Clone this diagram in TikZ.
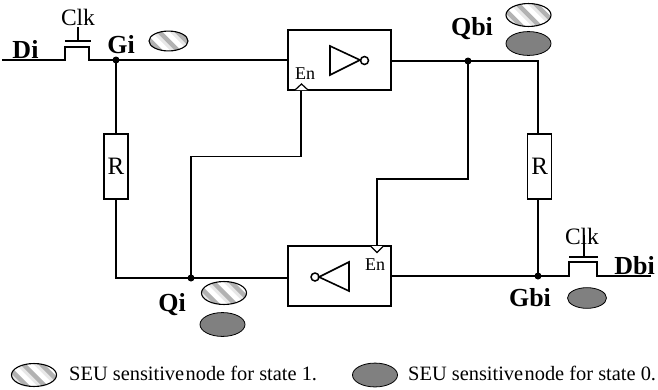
\documentclass[tikz,border=0pt]{standalone}
\usepackage{fontspec}
\setmainfont{Liberation Serif}
\usetikzlibrary{shapes.geometric}
\definecolor{darkoval}{HTML}{808080}
\tikzset{
 x=1pt,y=-1pt,
 wire/.style={line width=1.5pt,line join=miter,line cap=rect},
 thinwire/.style={line width=1.2pt,line join=miter},
 blockbox/.style={draw,line width=1.6pt,minimum width=103pt,minimum height=60pt,inner sep=0pt},
 resistor/.style={draw,line width=1.4pt,minimum width=24pt,minimum height=65pt,inner sep=0pt,font=\fontsize{25}{25}\selectfont},
 junction/.style={circle,fill=black,minimum size=7pt,inner sep=0pt},
 sig/.style={font=\fontsize{26}{26}\selectfont\bfseries,inner sep=0pt},
 clklabel/.style={font=\fontsize{23.5}{23.5}\selectfont,inner sep=0pt},
 enlabel/.style={font=\fontsize{18}{18}\selectfont,inner sep=0pt},
 legend/.style={font=\fontsize{20.4}{20.4}\selectfont,inner sep=0pt,anchor=west},
 solidoval/.style={ellipse,draw,line width=.8pt,fill=darkoval,inner sep=0pt,minimum width=#1,minimum height=.53*#1},
 stripeoval/.style={ellipse,draw,line width=1.1pt,fill=white,inner sep=0pt,minimum width=#1,minimum height=.51*#1,
  path picture={
   \fill[black!9] (path picture bounding box.south west) rectangle (path picture bounding box.north east);
   \foreach \d in {-18,0,18}{
    \draw[line width=6pt,white] ([xshift=\d pt-8pt,yshift=14pt]path picture bounding box.center) -- ([xshift=\d pt+20pt,yshift=-14pt]path picture bounding box.center);
    \draw[line width=4.5pt,black!30] ([xshift=\d pt-14pt,yshift=14pt]path picture bounding box.center) -- ([xshift=\d pt+14pt,yshift=-14pt]path picture bounding box.center);
   }}},
}
\begin{document}
\begin{tikzpicture}
\useasboundingbox (0,0) rectangle (658,389);
% blocks
\node[blockbox] (top) at (339.5,60) {};
\node[blockbox] (bot) at (339.5,276) {};
\node[resistor] (r1) at (116,166.5) {R};
\node[resistor] (r2) at (539.7,166.5) {R};
% junctions
\node[junction] (gi) at (116,60) {};
\node[junction] (qi) at (191,278) {};
\node[junction] (qbi) at (468,61) {};
\node[junction] (gbi) at (538,276) {};
% free ends
\coordinate (di) at (3,60);
\coordinate (dbi) at (650,276);
\coordinate (ena) at (301,90);
\coordinate (enb) at (377,246);
% transistors
\draw[wire] (di) -- (65,60) -- (65,47) -- (89,47) -- (89,60) -- (gi.center);
\draw[wire] (66,41) -- (90,41);
\draw[thinwire] (78,27) -- (78,41);
\draw[wire] (gbi.center) -- (569,276) -- (569,262) -- (597,262) -- (597,276) -- (dbi);
\draw[wire] (570,257) -- (597,257);
\draw[thinwire] (584,235) -- (584,257);
% wires
\draw[wire] (gi.center) -- (top.west |- gi);
\draw[wire] (gi.center) -- (gi |- r1.north);
\draw[wire] (r1.south) -- (116,278) -- (qi.center) -- (bot.west |- qi);
\draw[wire] (qi.center) -- (191,156.5) -- (ena |- 0,156.5) -- (ena);
\draw[wire] (top.east |- qbi) -- (qbi.center) -- (538,61) -- (538,134);
\draw[wire] (468,61) -- (468,179) -- (377,179) -- (enb);
\draw[wire] (538,199) -- (gbi.center);
\draw[wire] (bot.east |- gbi) -- (gbi.center);
% enable marks
\draw[thinwire,fill=white] (295,90) -- (301.5,84) -- (308,90);
\draw[thinwire,fill=white] (370.5,246) -- (377,252.5) -- (383.5,246);
\node[enlabel] (ent) at (305,74) {En};
\node[enlabel] (enu) at (375,264.5) {En};
% inverters
\draw[line width=1.6pt] (330,46) -- (360,60) -- (330,75) -- cycle;
\node[circle,draw,line width=1.5pt,minimum size=8pt,inner sep=0pt] (bub1) at (364.5,60.5) {};
\draw[line width=1.6pt] (349,262) -- (319,277) -- (349,291) -- cycle;
\node[circle,draw,line width=1.5pt,minimum size=8pt,inner sep=0pt] (bub2) at (315,277) {};
% labels
\node[sig] (tdi) at (25.5,50) {Di};
\node[clklabel] (c1) at (78,17) {Clk};
\node[sig] (tgi) at (121,45) {Gi};
\node[sig] (tqbi) at (472,29) {Qbi};
\node[sig] (tqi) at (172,305) {Qi};
\node[sig] (tgbi) at (530,298) {Gbi};
\node[sig] (tdbi) at (634.5,266) {Dbi};
\node[clklabel] (c2) at (582,236) {Clk};
% ovals
\node[stripeoval=39pt] (o1) at (168.5,41) {};
\node[stripeoval=45pt] (o2) at (528.5,15) {};
\node[solidoval=45pt] (o3) at (528.5,43.5) {};
\node[stripeoval=45pt] (o4) at (224,293) {};
\node[solidoval=45pt] (o5) at (222.5,324.5) {};
\node[solidoval=39pt] (o6) at (587,298) {};
\node[stripeoval=45pt] (o7) at (34,375) {};
\node[solidoval=45pt] (o8) at (375,375) {};
\node[legend] (l1) at (69,373.5) {SEU sensitive\hspace{-2pt}\,node for state 1.};
\node[legend] (l2) at (408,373.5) {SEU sensitive\hspace{-2pt}\,node for state 0.};
\end{tikzpicture}
\end{document}
